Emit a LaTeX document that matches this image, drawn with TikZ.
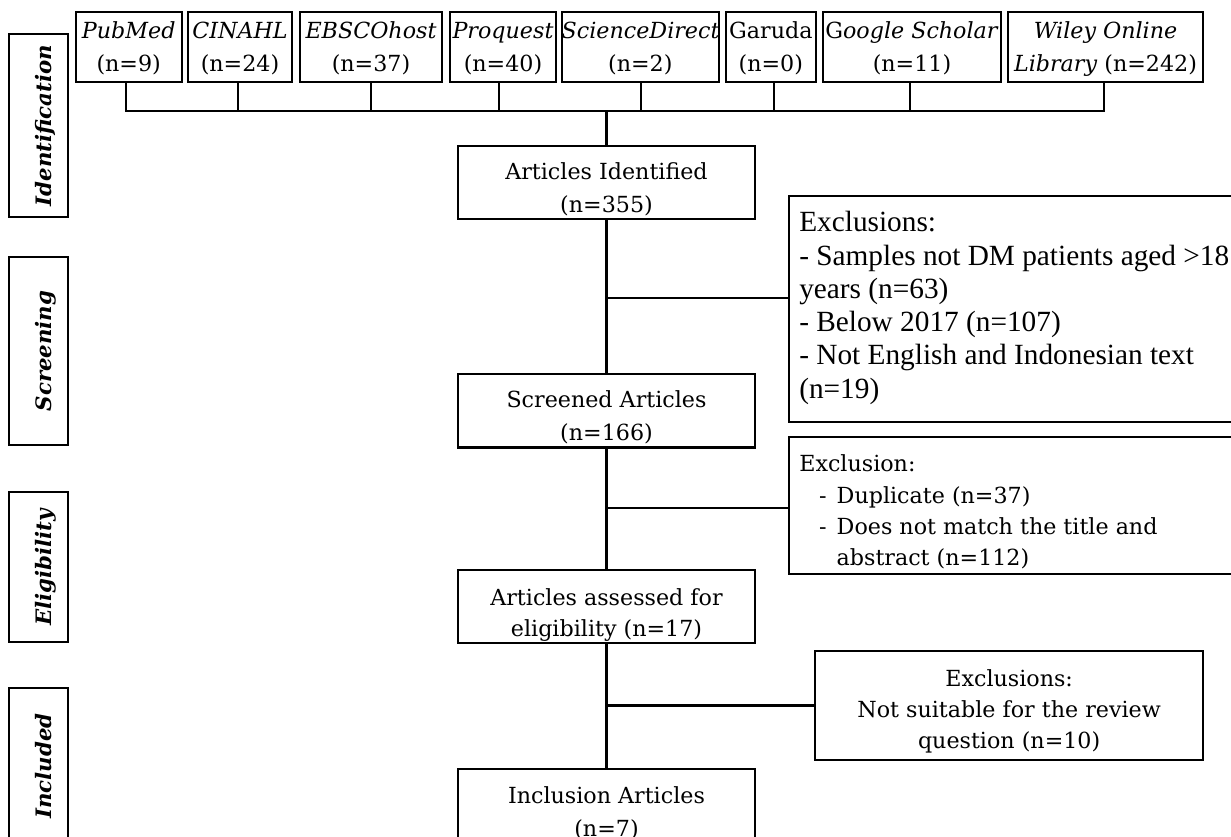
\documentclass[tikz,border=0pt]{standalone}
\usepackage{fontspec}
\setmainfont{DejaVu Serif}
\newfontfamily\tnr{Liberation Serif}
\newcommand\mf{\fontsize{22.2}{33}\selectfont}
\newcommand\cbox[4]{\parbox[c][#2pt][t]{#1pt}{\centering\rule{0pt}{#3pt}#4}}
\tikzset{
  box/.style={draw, line width=2.1pt, inner sep=0pt, outer sep=0pt},
  pbox/.style={box, inner xsep=10pt},
  lab/.style={box, rotate=90, minimum height=59pt, font=\fontsize{21.3}{24}\selectfont\bfseries\itshape, text height=25.5pt, text depth=0pt},
  conn/.style={line width=2.1pt}
}
\begin{document}
\begin{tikzpicture}[x=1pt,y=-1pt]
\useasboundingbox (0,0) rectangle (1231,837);
\clip (0,0) rectangle (1231,837);
% phase labels
\node[lab, minimum width=183pt] (lid) at (38.8,125.5) {Identification};
\node[lab, minimum width=188pt] (lsc) at (38.8,351) {Screening};
\node[lab, minimum width=150pt] (lel) at (38.8,567.3) {Eligibility};
\node[lab, minimum width=156pt] (lin) at (38.8,766.2) {Included};
% sources
\node[box] (pub) at (128.7,47.15) {\mf\cbox{106}{69.7}{26.5}{\textit{PubMed}\\(n=9)}};
\node[box] (cin) at (240,47.15) {\mf\cbox{104.6}{69.7}{26.5}{\textit{CINAHL}\\(n=24)}};
\node[box] (ebs) at (371,47.15) {\mf\cbox{142.6}{69.7}{26.5}{\textit{EBSCOhost}\\(n=37)}};
\node[box] (prq) at (503,47.15) {\mf\cbox{106}{69.7}{26.5}{\textit{Proquest}\\(n=40)}};
\node[box] (sd) at (640.35,47.15) {\mf\cbox{157.3}{69.7}{26.5}{\textit{ScienceDirect}\\(n=2)}};
\node[box] (gar) at (770.85,47.15) {\mf\cbox{90.3}{69.7}{26.5}{Garuda\\(n=0)}};
\node[box] (goo) at (912,47.15) {\mf\cbox{178}{69.7}{26.5}{G\textit{oogle Scholar}\\(n=11)}};
\node[box] (wil) at (1105.5,47.15) {\mf\cbox{194.4}{69.7}{26.5}{\textit{Wiley Online}\\\textit{Library} (n=242)}};
% main column
\node[box] (ident) at (606.5,182.65) {\mf\cbox{297.6}{73.3}{34}{Articles Identified\\(n=355)}};
\node[box] (scr) at (606.5,410.75) {\mf\cbox{297.6}{73.5}{33.5}{Screened Articles\\(n=166)}};
\node[box] (ass) at (606.5,606.8) {\mf\fontsize{22.2}{31}\selectfont\cbox{297.6}{73}{34.7}{Articles assessed for\\eligibility (n=17)}};
\node[box] (inc) at (606.5,805.95) {\mf\cbox{297.6}{73.3}{34}{Inclusion Articles\\(n=7)}};
% exclusion boxes
\node[pbox] (ex1) at (1017.15,308.7) {\tnr\fontsize{29.3}{33.3}\selectfont\parbox[c][226pt][t]{435.7pt}{\raggedright\rule{0pt}{36pt}Exclusions:\\- Samples not DM patients aged >18\\years (n=63)\\- Below 2017 (n=107)\\- Not English and Indonesian text\\(n=19)}};
\node[pbox] (ex2) at (1017.15,505.8) {\fontsize{22.2}{31.3}\selectfont\parbox[c][137pt][t]{435.7pt}{\raggedright\rule{0pt}{34.4pt}Exclusion:\\\hspace*{19.7pt}\makebox[17.7pt][l]{-}Duplicate (n=37)\\\hspace*{19.7pt}\makebox[17.7pt][l]{-}Does not match the title and\\\hspace*{37.4pt}abstract (n=112)}};
\node[box] (ex3) at (1009.15,705.5) {\fontsize{22.2}{31}\selectfont\cbox{387.7}{109}{35.7}{Exclusions:\\Not suitable for the review\\question (n=10)}};
% connectors
\coordinate (bus) at (606.5,110.7);
\foreach \n/\dx in {pub/-2.7,cin/-2,ebs/0,prq/-4,sd/0.35,gar/3.45,goo/-1.7,wil/-1.2}{
  \coordinate (\n-s) at ([xshift=\dx pt]\n.south);
}
\draw[conn] (pub-s) |- (bus) -| (wil-s);
\foreach \n in {cin,ebs,prq,sd,gar,goo}{
  \draw[conn] (\n-s) -- (\n-s |- bus);
}
\draw[conn] (bus) -- (ident.north);
\coordinate (j1) at (606.5,297.7);
\coordinate (j2) at (606.5,507.7);
\draw[conn] (ident.south) -- (scr.north);
\draw[conn] (j1) -- (j1 -| ex1.west);
\draw[conn] (scr.south) -- (ass.north);
\draw[conn] (j2) -- (j2 -| ex2.west);
\draw[conn] (ass.south) -- (inc.north);
\draw[conn] (ass.south |- ex3.west) -- (ex3.west);
\end{tikzpicture}
\end{document}
